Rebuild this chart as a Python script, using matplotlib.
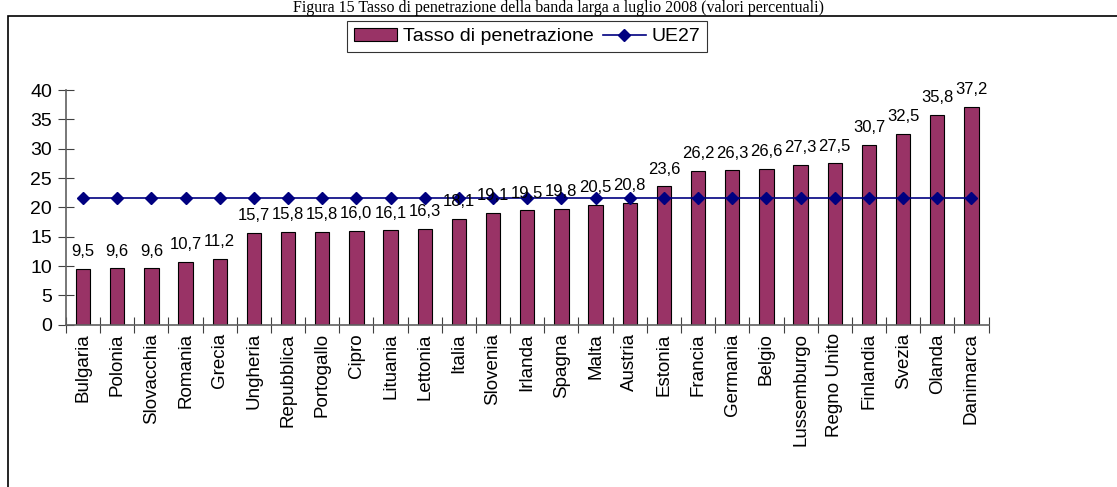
import matplotlib.pyplot as plt
from matplotlib.patches import Rectangle

# Data
countries = ['Bulgaria', 'Polonia', 'Slovacchia', 'Romania', 'Grecia', 'Ungheria',
             'Repubblica', 'Portogallo', 'Cipro', 'Lituania', 'Lettonia', 'Italia',
             'Slovenia', 'Irlanda', 'Spagna', 'Malta', 'Austria', 'Estonia',
             'Francia', 'Germania', 'Belgio', 'Lussemburgo', 'Regno Unito',
             'Finlandia', 'Svezia', 'Olanda', 'Danimarca']
penetration = [9.5, 9.6, 9.6, 10.7, 11.2, 15.7, 15.8, 15.8, 16.0, 16.1, 16.3, 18.1,
               19.1, 19.5, 19.8, 20.5, 20.8, 23.6, 26.2, 26.3, 26.6, 27.3, 27.5,
               30.7, 32.5, 35.8, 37.2]
eu27 = [21.6] * len(countries)
y_ticks = [0, 5, 10, 15, 20, 25, 30, 35, 40]

BAR_COLOR = '#993366'
LINE_COLOR = '#000080'

plt.rcParams['font.family'] = ['Liberation Sans', 'DejaVu Sans']

fig = plt.figure(figsize=(11.17, 4.87), dpi=100)
ax = fig.add_axes([0.059, 0.333, 0.826, 0.482])

x = list(range(len(countries)))
bars = ax.bar(x, penetration, width=0.42, color=BAR_COLOR, edgecolor='black',
              linewidth=0.8, label='Tasso di penetrazione', zorder=2)
line, = ax.plot(x, eu27, color=LINE_COLOR, marker='D', markersize=6.5, linewidth=1.2,
                label='UE27', zorder=3)

# Value labels with comma decimals
for xi, v in zip(x, penetration):
    ax.annotate(f'{v:.1f}'.replace('.', ','), (xi, v), xytext=(0, 7),
                textcoords='offset points', ha='center', va='bottom',
                fontsize=12, clip_on=False, zorder=4)

ax.set_xlim(-0.5, len(countries) - 0.5)
ax.set_ylim(0, 40)
ax.set_yticks(y_ticks)
ax.set_yticklabels([str(t) for t in y_ticks], fontsize=14)
ax.set_xticks([i - 0.5 for i in range(len(countries) + 1)], minor=False)
ax.set_xticklabels([])
ax.set_xticks(x, minor=True)
ax.set_xticklabels(countries, minor=True, rotation=90, fontsize=13.5)
ax.tick_params(axis='x', which='major', direction='inout', length=12, color='#404040')
ax.tick_params(axis='x', which='minor', length=0, pad=6)
ax.tick_params(axis='y', direction='inout', length=12, color='#404040', pad=4)

for side in ['top', 'right']:
    ax.spines[side].set_visible(False)
for side in ['left', 'bottom']:
    ax.spines[side].set_color('#606060')
    ax.spines[side].set_linewidth(1.2)

leg = fig.legend([bars, line], ['Tasso di penetrazione', 'UE27'], loc='center',
                 bbox_to_anchor=(0.472, 0.925), ncol=2,
                 fontsize=14, frameon=True, fancybox=False, edgecolor='black',
                 handlelength=2.2, handletextpad=0.3, columnspacing=0.5,
                 borderpad=0.35)
leg.get_frame().set_linewidth(0.8)

# Outer chart frame
fig.patches.append(Rectangle((8 / 1117, -0.1), 1.2, 1.1 - 16 / 487,
                             transform=fig.transFigure, fill=False,
                             edgecolor='black', linewidth=1.2))

fig.text(0.5, 1 - 12 / 487, 'Figura 15 Tasso di penetrazione della banda larga a luglio 2008 '
         '(valori percentuali)', ha='center', va='baseline', fontsize=11.5,
         family='Liberation Serif')

fig.savefig('out.png', dpi=100)
